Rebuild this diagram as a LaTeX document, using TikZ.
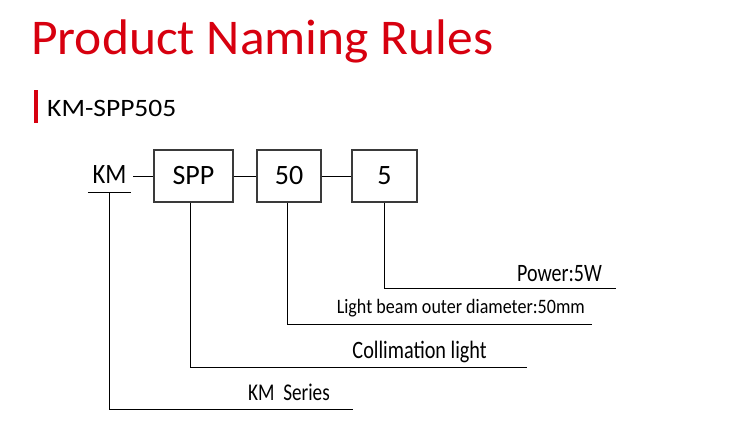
\documentclass[tikz,border=0pt]{standalone}
\usepackage{fontspec}
\setmainfont{Carlito}
\usepackage{tikz}
\usetikzlibrary{positioning,calc}
\definecolor{titlered}{HTML}{D7000F}
\definecolor{edge}{HTML}{3A3A3A}
\newcommand{\squeeze}[2]{\scalebox{#1}[1]{#2}}

\begin{document}
\begin{tikzpicture}[
  x=1pt, y=-1pt,
  codebox/.style={draw=edge, line width=1.1pt, fill=white, minimum height=52pt, inner sep=0pt, font=\fontsize{28}{30}\selectfont},
  wire/.style={draw=black, line width=0.8pt},
  lbl/.style={anchor=base east, inner sep=0pt, font=\fontsize{25}{27}\selectfont}
]
\useasboundingbox (0,0) rectangle (743,436);

% Heading
\node[anchor=base west, inner sep=0pt, text=titlered, font=\fontsize{50}{52}\selectfont] (title) at (31,55) {\squeeze{1.03}{Product Naming Rules}};
\node[fill=titlered, minimum width=4pt, minimum height=33pt, inner sep=0pt, anchor=north west] (bar) at (34,90) {};
\node[anchor=base west, inner sep=0pt, font=\fontsize{25}{27}\selectfont] (model) at (47,116) {\squeeze{1.1}{KM-SPP505}};

% Code parts
\node[anchor=base, inner sep=0pt, minimum width=43pt, text depth=9pt, font=\fontsize{28}{30}\selectfont] (km) at (109.5,183) {\squeeze{0.88}{KM}};
\node[codebox, minimum width=79pt] (spp)  at (193.5,176) {SPP};
\node[codebox, minimum width=64pt] (dia)  at (289,176)   {50};
\node[codebox, minimum width=65pt] (pwr)  at (384.5,176) {5};

\draw[wire] (km.south west) -- (km.south east);
\draw[wire] ([xshift=2pt]km.east |- spp.west) -- (spp.west);
\draw[wire] (spp.east) -- (dia.west);
\draw[wire] (dia.east) -- (pwr.west);

% Leader ends
\coordinate (pwrend) at (616,288);
\coordinate (diaend) at (592,324);
\coordinate (sppend) at (527,367);
\coordinate (kmend)  at (353,409);

\draw[wire] (pwr.south) |- (pwrend);
\draw[wire] ([xshift=-2pt]dia.south) |- (diaend);
\draw[wire] ([xshift=-3.5pt]spp.south) |- (sppend);
\draw[wire] (km.south) |- (kmend);

% Meanings
\node[lbl] (pwrtxt) at (602,281) {\squeeze{0.8}{Power:5W}};
\node[lbl, font=\fontsize{20.5}{22}\selectfont] (diatxt) at (585,313) {\squeeze{0.88}{Light beam outer diameter:50mm}};
\node[lbl] (spptxt) at (487,358) {\squeeze{0.81}{Collimation light}};
\node[lbl, font=\fontsize{24}{26}\selectfont] (kmtxt) at (330,400) {\squeeze{0.8}{KM\ \ Series}};
\end{tikzpicture}
\end{document}
